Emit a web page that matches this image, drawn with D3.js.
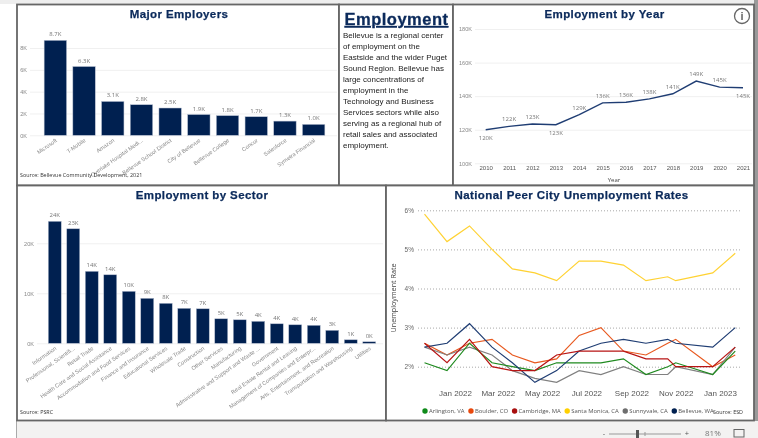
<!DOCTYPE html>
<html>
<head>
<meta charset="utf-8">
<script src="https://cdn.jsdelivr.net/npm/d3@7"></script>
<style>
html, body { margin: 0; padding: 0; background: #fff; overflow: hidden; }
svg { display: block; font-family: "Open Sans", sans-serif; filter: blur(0.3px); }
.title { font-family: "Liberation Sans", sans-serif; font-weight: bold; font-size: 11.5px; fill: #0b2a5b; stroke: #0b2a5b; stroke-width: 0.25px; text-anchor: middle; letter-spacing: .4px; }
.tick text { fill: #8a8a8a; font-size: 5.6px; }
.tick line { stroke: #f0f0f0; }
.domain { display: none; }
.lab { fill: #777; font-size: 6px; text-anchor: middle; }
.src { fill: #333; font-size: 5.4px; }
</style>
</head>
<body>
<svg id="chart" width="758" height="438"></svg>
<script>
// major employers
const employers = ["Microsoft", "T-Mobile", "Amazon", "Overlake Hospital Medi...", "Bellevue School District", "City of Bellevue", "Bellevue College", "Concur", "Salesforce", "Symetra Financial"];
const employerValues = [8.7, 6.3, 3.1, 2.8, 2.5, 1.9, 1.8, 1.7, 1.3, 1.0];
const employerTicks = [0, 2, 4, 6, 8];

// employment by year
const years = [2010, 2011, 2012, 2013, 2014, 2015, 2016, 2017, 2018, 2019, 2020, 2021];
const yearValues = [120, 122, 123.4, 123, 129, 136, 136.4, 138.4, 141.4, 149, 145.4, 145];
const yearLabelsBelow = [2010, 2013, 2021];
const yearTicks = [100, 120, 140, 160, 180];

// employment by sector
const sectors = ["Information", "Professional, Scientifi...", "Retail Trade", "Health Care and Social Assistance", "Accommodation and Food Services", "Finance and Insurance", "Educational Services", "Wholesale Trade", "Construction", "Other Services", "Manufacturing", "Administrative and Support and Waste ...", "Government", "Real Estate Rental and Leasing", "Management of Companies and Enterpr...", "Arts, Entertainment, and Recreation", "Transportation and Warehousing", "Utilities"];
const sectorValues = [24.4, 22.9, 14.4, 13.7, 10.4, 9.0, 8.0, 7.0, 6.9, 4.9, 4.7, 4.4, 3.9, 3.7, 3.6, 2.6, 0.7, 0.3];
const sectorTicks = [0, 10, 20];

// unemployment, dates as they sit on the time axis
const months = ["2021-11-20", "2021-12-21", "2022-01-21", "2022-02-21", "2022-03-21", "2022-04-21", "2022-05-21", "2022-06-21", "2022-07-21", "2022-08-21", "2022-09-21", "2022-10-21", "2022-11-01", "2022-12-22", "2023-01-22"];
const monthTicks = ["2022-01-01", "2022-03-01", "2022-05-01", "2022-07-01", "2022-09-01", "2022-11-01", "2023-01-01"];
const rateTicks = [2, 3, 4, 5, 6];
const cities = ["Arlington, VA", "Boulder, CO", "Cambridge, MA", "Santa Monica, CA", "Sunnyvale, CA", "Bellevue, WA"];
const cityColors = ["#1f8a1f", "#e8591f", "#b81414", "#ffd233", "#808080", "#1f3d73"];
const legendColors = ["#0f8a1a", "#e8480c", "#a80f0f", "#ffd000", "#6e6e6e", "#002050"];
const arlington = [2.1, 1.9, 2.6, 2.1, 2.0, 1.9, 2.1, 2.1, 2.1, 2.2, 1.8, 2.0, 2.1, 1.8, 2.4];
const boulder = [2.6, 2.3, 2.6, 2.7, 2.3, 2.1, 2.2, 2.8, 3.0, 2.4, 2.3, 2.6, 2.7, 2.0, 2.3];
const cambridge = [2.6, 2.1, 2.7, 2.0, 1.9, 1.9, 2.3, 2.4, 2.4, 2.4, 2.2, 2.2, 2.0, 2.0, 2.5];
const santaMonica = [5.9, 5.2, 5.6, 5.0, 4.5, 4.4, 4.2, 4.7, 4.7, 4.6, 4.2, 4.3, 4.2, 4.4, 4.9];
const sunnyvale = [2.5, 2.3, 2.5, 2.3, 1.9, 1.7, 1.6, 1.9, 1.8, 2.0, 1.8, 1.8, 2.0, 1.8, 2.5];
const bellevue = [2.5, 2.6, 3.1, 2.5, 2.1, 1.6, 1.9, 2.4, 2.6, 2.7, 2.6, 2.7, 2.6, 2.5, 3.0];

const blurb = ["Bellevue is a regional center", "of employment on the", "Eastside and the wider Puget", "Sound Region. Bellevue has", "large concentrations of", "employment in the", "Technology and Business", "Services sectors while also", "serving as a regional hub of", "retail sales and associated", "employment."];

const svg = d3.select("#chart");
const navy = "#002050";
const parseDay = d3.utcParse("%Y-%m-%d");

// page chrome behind the panels
svg.append("rect").attr("width", 758).attr("height", 438).attr("fill", "#fff");
svg.append("rect").attr("x", 0).attr("y", 0).attr("width", 758).attr("height", 4).attr("fill", "#eeeeee");
svg.append("rect").attr("x", 16).attr("y", 420).attr("width", 742).attr("height", 18).attr("fill", "#f3f2f1");
svg.append("rect").attr("x", 16).attr("y", 420).attr("width", 1).attr("height", 18).attr("fill", "#aaa");
svg.append("rect").attr("x", 754).attr("y", 0).attr("width", 4).attr("height", 421).attr("fill", "#9a9a9a");

function panel(x, y, w, h) {
    svg.append("rect").attr("x", x).attr("y", y).attr("width", w).attr("height", h)
        .attr("fill", "#fff").attr("stroke", "#666").attr("stroke-width", 1.8);
}
panel(17, 4.5, 322, 181);
panel(339, 4.5, 114, 181);
panel(453, 4.5, 301, 181);
panel(17, 185.5, 369, 235);
panel(386, 185.5, 368, 235);

// bar chart with rotated category labels, used for both bar panels
function barPanel(cfg) {
    const x = d3.scaleBand().domain(cfg.names).range(cfg.xRange).paddingInner(cfg.pad).paddingOuter(cfg.pad / 2);
    const y = d3.scaleLinear().domain(cfg.yDomain).range(cfg.yRange);
    const g = svg.append("g");

    g.append("g")
        .attr("transform", `translate(${cfg.gridLeft},0)`)
        .call(d3.axisLeft(y).tickValues(cfg.ticks).tickSize(-(cfg.gridRight - cfg.gridLeft)).tickFormat(d => d + "K"))
        .call(a => a.selectAll("text").attr("x", -3));

    g.selectAll("rect.bar")
        .data(cfg.values)
        .enter()
        .append("rect")
        .attr("class", "bar")
        .attr("x", (d, i) => x(cfg.names[i]))
        .attr("y", d => y(d))
        .attr("width", x.bandwidth())
        .attr("height", d => y(0) - y(d))
        .attr("fill", navy)
        .attr("stroke", "#b4bdcf")
        .attr("stroke-width", 0.5);

    g.selectAll("text.lab")
        .data(cfg.values)
        .enter()
        .append("text")
        .attr("class", "lab")
        .attr("x", (d, i) => x(cfg.names[i]) + x.bandwidth() / 2)
        .attr("y", d => y(d) - 4)
        .text(cfg.format);

    g.append("g")
        .attr("transform", `translate(0,${y(0)})`)
        .call(d3.axisBottom(x).tickSize(0))
        .call(a => a.selectAll("text")
            .attr("text-anchor", "end")
            .attr("dx", 0)
            .attr("dy", 0)
            .attr("y", 0)
            .attr("transform", "translate(2,6) rotate(-35)"));
}

barPanel({
    names: employers, values: employerValues, ticks: employerTicks,
    xRange: [41, 328], pad: 0.22, yDomain: [0, 8], yRange: [135.3, 48],
    gridLeft: 30, gridRight: 337, format: d => d.toFixed(1) + "K"
});
barPanel({
    names: sectors, values: sectorValues, ticks: sectorTicks,
    xRange: [45.5, 378.5], pad: 0.3, yDomain: [0, 20], yRange: [343.3, 243.3],
    gridLeft: 37, gridRight: 383, format: d => Math.round(d) + "K"
});

svg.append("text").attr("class", "title").attr("x", 179).attr("y", 18).text("Major Employers");
svg.append("text").attr("class", "src").attr("x", 20).attr("y", 177).text("Source: Bellevue Community Development, 2021");
svg.append("text").attr("class", "title").attr("x", 202).attr("y", 199).text("Employment by Sector");
svg.append("text").attr("class", "src").attr("x", 20).attr("y", 414).text("Source: PSRC");

// text panel
svg.append("text")
    .attr("x", 396.5).attr("y", 25)
    .attr("text-anchor", "middle")
    .attr("fill", "#0b2a5b")
    .attr("stroke", "#0b2a5b")
    .attr("stroke-width", 0.3)
    .attr("font-family", "Liberation Sans")
    .attr("font-weight", "bold")
    .attr("font-size", 16.5)
    .attr("letter-spacing", 0.5)
    .attr("text-decoration", "underline")
    .text("Employment");
svg.append("g").selectAll("text")
    .data(blurb)
    .enter()
    .append("text")
    .attr("x", 343)
    .attr("y", (d, i) => 38 + i * 11)
    .attr("fill", "#222")
    .attr("font-family", "Liberation Sans")
    .attr("font-size", 8)
    .text(d => d);

// employment by year
const yearX = d3.scalePoint().domain(years).range([485.7, 743]);
const yearY = d3.scaleLinear().domain([100, 180]).range([163.3, 29]);

svg.append("g")
    .attr("transform", "translate(475,0)")
    .call(d3.axisLeft(yearY).tickValues(yearTicks).tickSize(-277).tickFormat(d => d + "K"))
    .call(a => a.selectAll("text").attr("x", -3));
svg.append("g")
    .attr("transform", "translate(0,163.3)")
    .call(d3.axisBottom(yearX).tickSize(0).tickPadding(2))
    .call(a => a.selectAll("text").style("fill", "#555").style("font-size", "6px"));
svg.append("path")
    .attr("d", d3.line().x((d, i) => yearX(years[i])).y(d => yearY(d))(yearValues))
    .attr("fill", "none")
    .attr("stroke", "#1f3d73")
    .attr("stroke-width", 1.4);
svg.append("g").selectAll("text")
    .data(yearValues)
    .enter()
    .append("text")
    .attr("class", "lab")
    .attr("x", (d, i) => yearX(years[i]))
    .attr("y", (d, i) => yearY(d) + (yearLabelsBelow.includes(years[i]) ? 10 : -5))
    .text(d => Math.round(d) + "K");
svg.append("text").attr("class", "title").attr("x", 604.5).attr("y", 18).text("Employment by Year");
svg.append("text").attr("x", 614).attr("y", 182).attr("text-anchor", "middle").attr("fill", "#444").attr("font-size", 6).text("Year");

// info icon
svg.append("circle").attr("cx", 742).attr("cy", 16).attr("r", 7.5).attr("fill", "#fff").attr("stroke", "#666").attr("stroke-width", 1.3);
svg.append("text").attr("x", 742).attr("y", 20).attr("text-anchor", "middle").attr("fill", "#666").attr("font-family", "Liberation Sans").attr("font-weight", "bold").attr("font-size", 11).text("i");

// unemployment lines
const rateX = d3.scaleUtc().domain([parseDay("2022-01-01"), parseDay("2023-01-01")]).range([455, 720]);
const rateY = d3.scaleLinear().domain([2, 6]).range([366.7, 210.3]);

svg.append("g")
    .attr("transform", "translate(418,0)")
    .call(d3.axisLeft(rateY).tickValues(rateTicks).tickSize(-324).tickFormat(d => d + "%"))
    .call(a => a.selectAll("line").style("stroke", "#a8a8a8").attr("stroke-dasharray", "1 2"))
    .call(a => a.selectAll("text").attr("x", -4).style("fill", "#666").style("font-size", "6.5px"));
svg.append("g")
    .attr("transform", "translate(0,387)")
    .call(d3.axisBottom(rateX).tickValues(monthTicks.map(parseDay)).tickSize(0).tickPadding(3).tickFormat(d3.utcFormat("%b %Y")))
    .call(a => a.selectAll("text").style("fill", "#555").style("font-size", "8px"));

const citySeries = [arlington, boulder, cambridge, santaMonica, sunnyvale, bellevue];
const rateLine = d3.line().x((d, i) => rateX(parseDay(months[i]))).y(d => rateY(d));
[3, 1, 4, 0, 5, 2].forEach(k => {
    svg.append("path")
        .attr("d", rateLine(citySeries[k]))
        .attr("fill", "none")
        .attr("stroke", cityColors[k])
        .attr("stroke-width", 1.2);
});

svg.append("text").attr("class", "title").attr("x", 571.5).attr("y", 199).text("National Peer City Unemployment Rates");
svg.append("text").attr("transform", "translate(396,298) rotate(-90)").attr("text-anchor", "middle").attr("fill", "#444").attr("font-size", 7.2).text("Unemployment Rate");

// legend, laid out by measuring each label
let legendX = 425;
cities.forEach((c, i) => {
    svg.append("circle").attr("cx", legendX).attr("cy", 411).attr("r", 2.7).attr("fill", legendColors[i]);
    const t = svg.append("text").attr("x", legendX + 4).attr("y", 413).attr("fill", "#555").attr("font-size", 5.9).text(c);
    legendX += t.node().getComputedTextLength() + 10.5;
});
svg.append("text").attr("class", "src").attr("x", 713).attr("y", 414).text("Source: ESD");

// zoom bar at the bottom
svg.append("text").attr("x", 604).attr("y", 435.8).attr("text-anchor", "middle").attr("fill", "#555").attr("font-size", 7.5).text("-");
svg.append("line").attr("x1", 609).attr("x2", 681).attr("y1", 434).attr("y2", 434).attr("stroke", "#999");
svg.append("line").attr("x1", 645).attr("x2", 645).attr("y1", 432).attr("y2", 436).attr("stroke", "#999");
svg.append("rect").attr("x", 636).attr("y", 430).attr("width", 3).attr("height", 8).attr("fill", "#555");
svg.append("text").attr("x", 687).attr("y", 435.8).attr("text-anchor", "middle").attr("fill", "#555").attr("font-size", 7.5).text("+");
svg.append("text").attr("x", 705).attr("y", 435.8).attr("fill", "#777").attr("font-size", 8).text("81%");
svg.append("rect").attr("x", 734).attr("y", 429.5).attr("width", 10).attr("height", 7.5).attr("fill", "none").attr("stroke", "#666");
</script>
</body>
</html>
